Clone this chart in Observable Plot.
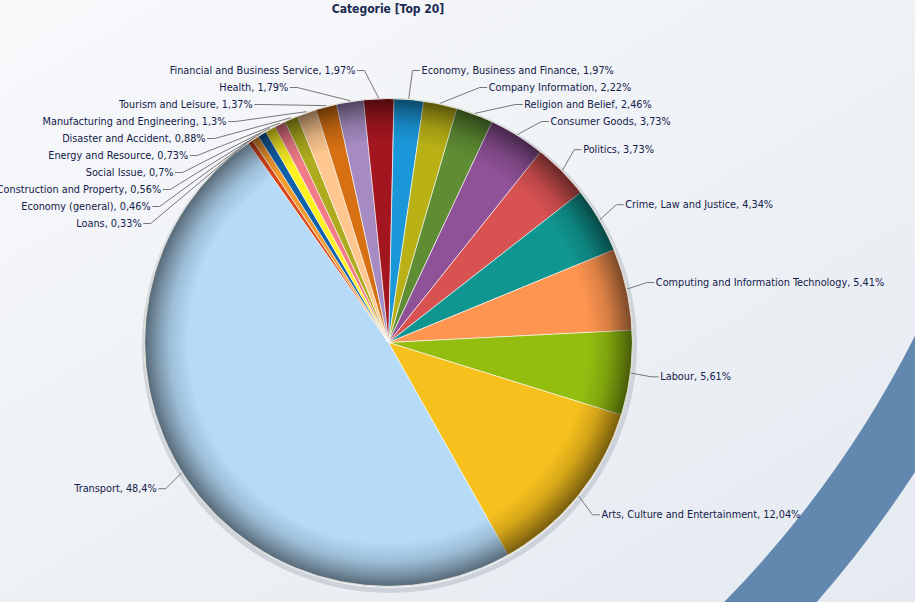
<!DOCTYPE html>
<html><head><meta charset="utf-8">
<script src="https://cdn.jsdelivr.net/npm/d3@7"></script>
<script src="https://cdn.jsdelivr.net/npm/@observablehq/plot@0.6"></script>
<style>
html,body{margin:0;padding:0;background:#fff;}
#wrap{position:relative;width:915px;height:602px;overflow:hidden;background:linear-gradient(150deg,#f8f9fb 0%,#eff2f6 45%,#e5eaf1 100%);}
#bg{position:absolute;left:0;top:0;}
#chart{position:absolute;left:0;top:0;}
#title{position:absolute;left:0;top:2px;width:776px;text-align:center;font:bold 12px "DejaVu Sans Condensed","Liberation Sans",sans-serif;color:#1b2a52;}
</style></head><body>
<div id="wrap"><svg id="bg" width="915" height="602"></svg><div id="chart"></div><div id="title"></div></div>
<script>
// ---- data (clockwise from 12 o'clock) ----
const categories = [
  "Economy, Business and Finance", "Company Information", "Religion and Belief", "Consumer Goods",
  "Politics", "Crime, Law and Justice", "Computing and Information Technology", "Labour",
  "Arts, Culture and Entertainment", "Transport", "Loans", "Economy (general)",
  "Construction and Property", "Social Issue", "Energy and Resource", "Disaster and Accident",
  "Manufacturing and Engineering", "Tourism and Leisure", "Health", "Financial and Business Service"
];
const values = [1.97, 2.22, 2.46, 3.73, 3.73, 4.34, 5.41, 5.61, 12.04, 48.4,
                0.33, 0.46, 0.56, 0.7, 0.73, 0.88, 1.3, 1.37, 1.79, 1.97];
const colors = ["#1a97d9", "#b9b116", "#5f8d33", "#8f5197", "#d95252", "#109690", "#fe9550", "#93be10",
                "#f6c01d", "#b5dbf8", "#d9461b", "#f49b2e", "#1061aa", "#fef223", "#f27b87", "#aeab1e",
                "#fdc78f", "#d67012", "#a58bc1", "#a3161f"];
const chartTitle = "Categorie [Top 20]";

// ---- layout ----
const W = 915, H = 602, CX = 388, CY = 342, R = 244, LR = 274, START = 1.2, GAP = 17, TOPY = 70;
document.getElementById("title").textContent = chartTitle;

// decorative swoosh in background
d3.select("#bg").append("circle").attr("cx", -40).attr("cy", -147).attr("r", 1104)
  .attr("fill", "none").attr("stroke", "#6288b0").attr("stroke-width", 68);

const rad = d => d * Math.PI / 180;
const total = d3.sum(values);
let acc = 0;
const slices = categories.map((name, i) => {
  const a0 = START + acc / total * 360;
  acc += values[i];
  const a1 = START + acc / total * 360;
  return {name, value: values[i], color: colors[i], a0, a1, mid: (a0 + a1) / 2};
});

// polygon points per slice
const pts = [];
for (const s of slices) {
  pts.push({name: s.name, color: s.color, x: CX, y: CY});
  const n = Math.max(2, Math.ceil((s.a1 - s.a0) / 0.5));
  for (let k = 0; k <= n; k++) {
    const a = rad(s.a0 + (s.a1 - s.a0) * k / n);
    pts.push({name: s.name, color: s.color, x: CX + R * Math.sin(a), y: CY - R * Math.cos(a)});
  }
}

// labels
const labels = slices.map(s => ({
  ...s,
  text: `${s.name}, ${String(s.value).replace(".", ",")}%`,
  right: Math.sin(rad(s.mid)) >= 0,
  ny: CY - LR * Math.cos(rad(s.mid))
}));
for (const side of [true, false]) {
  const group = labels.filter(l => l.right === side).sort((a, b) => a.ny - b.ny);
  let prev = -Infinity;
  for (const l of group) {
    l.y = Math.max(l.ny, prev + GAP, TOPY);
    prev = l.y;
  }
}
const conns = [];
for (const l of labels) {
  const dy = l.y - CY;
  const dx = Math.sqrt(Math.max(0, LR * LR - dy * dy));
  const sgn = l.right ? 1 : -1;
  l.x = CX + sgn * dx;
  const m = rad(l.mid);
  conns.push({name: l.name, x: CX + (R + 1) * Math.sin(m), y: CY - (R + 1) * Math.cos(m)});
  conns.push({name: l.name, x: l.x - sgn * 9, y: l.y});
  conns.push({name: l.name, x: l.x - sgn * 2, y: l.y});
}

const font = '"DejaVu Sans Condensed","Liberation Sans",sans-serif';
const plot = Plot.plot({
  width: W, height: H, margin: 0,
  x: {domain: [0, W], range: [0, W], axis: null},
  y: {domain: [0, H], range: [0, H], axis: null},
  color: {type: "identity"},
  style: {background: "transparent", overflow: "visible"},
  marks: [
    Plot.dot([{x: CX + 1, y: CY + 3}], {x: "x", y: "y", r: R + 1, fill: "none", stroke: "#6a7080", strokeWidth: 5, strokeOpacity: 0.22}),
    Plot.line(pts, {x: "x", y: "y", z: "name", fill: "color", stroke: "#ffffff", strokeWidth: 0.8, strokeOpacity: 0.85, curve: "linear-closed"}),
    Plot.dot([{x: CX, y: CY}], {x: "x", y: "y", r: R, fill: "url(#rim)", stroke: "#e4e2d8", strokeWidth: 1}),
    Plot.line(conns, {x: "x", y: "y", z: "name", stroke: "#777777", strokeWidth: 1}),
    Plot.text(labels.filter(l => l.right), {x: "x", y: "y", text: "text", textAnchor: "start", fill: "#13204a", fontSize: 10.8, fontFamily: font}),
    Plot.text(labels.filter(l => !l.right), {x: "x", y: "y", text: "text", textAnchor: "end", fill: "#13204a", fontSize: 10.8, fontFamily: font})
  ]
});
const defs = d3.select(plot).insert("defs", ":first-child");
const g = defs.append("radialGradient").attr("id", "rim").attr("cx", "50%").attr("cy", "50%").attr("r", "50%");
[[0, 0], [0.82, 0], [0.9, 0.14], [0.96, 0.36], [0.993, 0.5], [1, 0.38]].forEach(([o, a]) =>
  g.append("stop").attr("offset", o).attr("stop-color", "#000").attr("stop-opacity", a));
document.getElementById("chart").appendChild(plot);
</script>
</body></html>
